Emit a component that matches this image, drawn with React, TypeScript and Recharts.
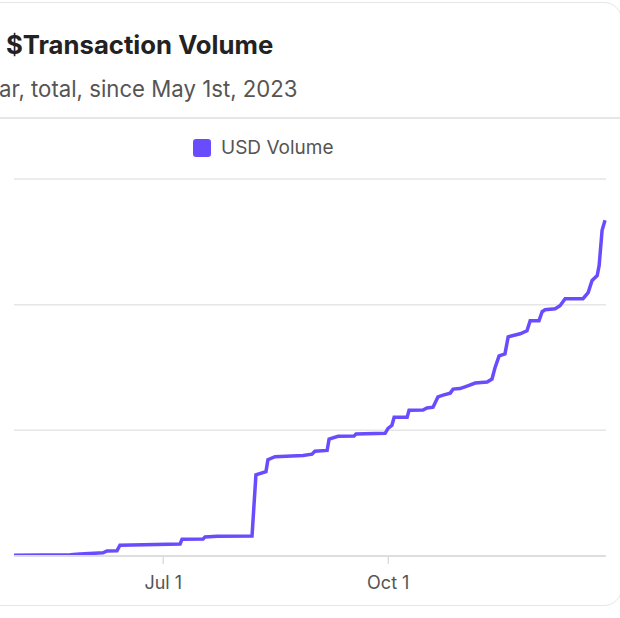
import { LineChart, Line, XAxis, YAxis, CartesianGrid } from "recharts";

// days since May 1st, 2023
const days = [
  0, 23, 27, 36.4, 38, 42.1, 43.3, 67.9, 68.7, 77.3, 78.1, 83, 97.3, 98.9, 103, 103.8, 106.7,
  118.2, 121.8, 123, 128, 128.8, 132.5, 139, 139.8, 151.7, 152.9, 154.5, 155.4, 160.7, 161.5,
  167.2, 168.8, 171.3, 173.3, 175.4, 178.3, 179.5, 182.3, 185.2, 188.5, 193.4, 195.4, 196.6,
  198.3, 200.7, 202, 206.9, 209.7, 211, 214.6, 215.9, 217.1, 221.2, 223.2, 225.3, 232.6, 234.7,
  236.3, 238.4, 239.2, 240.4, 241.6,
];

// cumulative USD volume (thousands)
const usdVolume = [
  0.5, 1, 1.6, 2.6, 4, 4.2, 8.6, 9.6, 13.4, 13.6, 15.2, 15.8, 16, 64.6, 67.2, 76.6, 79, 80, 81,
  83.4, 84, 93, 95.2, 95.4, 97, 97.6, 101.6, 104, 110.4, 110.4, 116, 116.2, 117.8, 118.4, 126.6,
  128, 129.6, 132.8, 133.2, 135.2, 137.6, 138.4, 140.8, 149.6, 159.2, 160.8, 174.4, 176.8, 179.2,
  187.2, 187.2, 194.4, 196, 196.8, 199.2, 204.8, 204.8, 209.6, 219.2, 223.2, 231.2, 259.2, 267.2,
];

const xTicks = [61, 153];
const xTickLabels = ["Jul 1", "Oct 1"];
const yTicks = [0, 100, 200, 300];

const data = days.map((d, i) => ({ day: d, usd: usdVolume[i] }));

const FONT = "Inter, 'Noto Sans', sans-serif";
const PURPLE = "#6a4cff";

export default function App() {
  return (
    <div
      style={{
        position: "fixed",
        left: 0,
        top: 0,
        width: 620,
        height: 618,
        overflow: "hidden",
        background: "#fff",
        fontFamily: FONT,
      }}
    >
      <div
        style={{
          position: "absolute",
          left: -40,
          top: 2,
          width: 660,
          height: 602,
          border: "1.5px solid #e6e6e6",
          borderRadius: 18,
        }}
      />
      <div
        style={{
          position: "absolute",
          left: 6,
          top: 29,
          fontSize: 25.7,
          fontWeight: 700,
          color: "#222",
          whiteSpace: "nowrap",
        }}
      >
        $Transaction Volume
      </div>
      <div
        style={{
          position: "absolute",
          left: -1,
          top: 75,
          fontSize: 22.2,
          color: "#555",
          whiteSpace: "nowrap",
        }}
      >
        ar, total, since May 1st, 2023
      </div>
      <div style={{ position: "absolute", left: 0, top: 117, width: 620, height: 1.5, background: "#e6e6e6" }} />
      <div
        style={{
          position: "absolute",
          left: 193,
          top: 136,
          display: "flex",
          alignItems: "center",
          gap: 10,
          fontSize: 19,
          color: "#555",
        }}
      >
        <span style={{ width: 18, height: 18, borderRadius: 3, background: PURPLE, display: "inline-block" }} />
        <span>USD Volume</span>
      </div>
      <div style={{ position: "absolute", left: 0, top: 0 }}>
        <LineChart width={620} height={600} data={data} margin={{ top: 179, right: 14, left: 14, bottom: 4 }}>
          <CartesianGrid vertical={false} stroke="#e6e6e6" strokeWidth={1.5} />
          <XAxis
            dataKey="day"
            type="number"
            domain={[0, 242]}
            ticks={xTicks}
            tickFormatter={(v) => xTickLabels[xTicks.indexOf(v)] ?? ""}
            height={40}
            tickSize={8}
            tickMargin={12}
            axisLine={{ stroke: "#dedede", strokeWidth: 2 }}
            tickLine={{ stroke: "#dedede", strokeWidth: 1.5 }}
            tick={{ fontSize: 18, fill: "#555", fontFamily: FONT }}
          />
          <YAxis hide domain={[0, 300]} ticks={yTicks} />
          <Line
            type="linear"
            dataKey="usd"
            stroke={PURPLE}
            strokeWidth={3.5}
            dot={false}
            isAnimationActive={false}
          />
        </LineChart>
      </div>
    </div>
  );
}
